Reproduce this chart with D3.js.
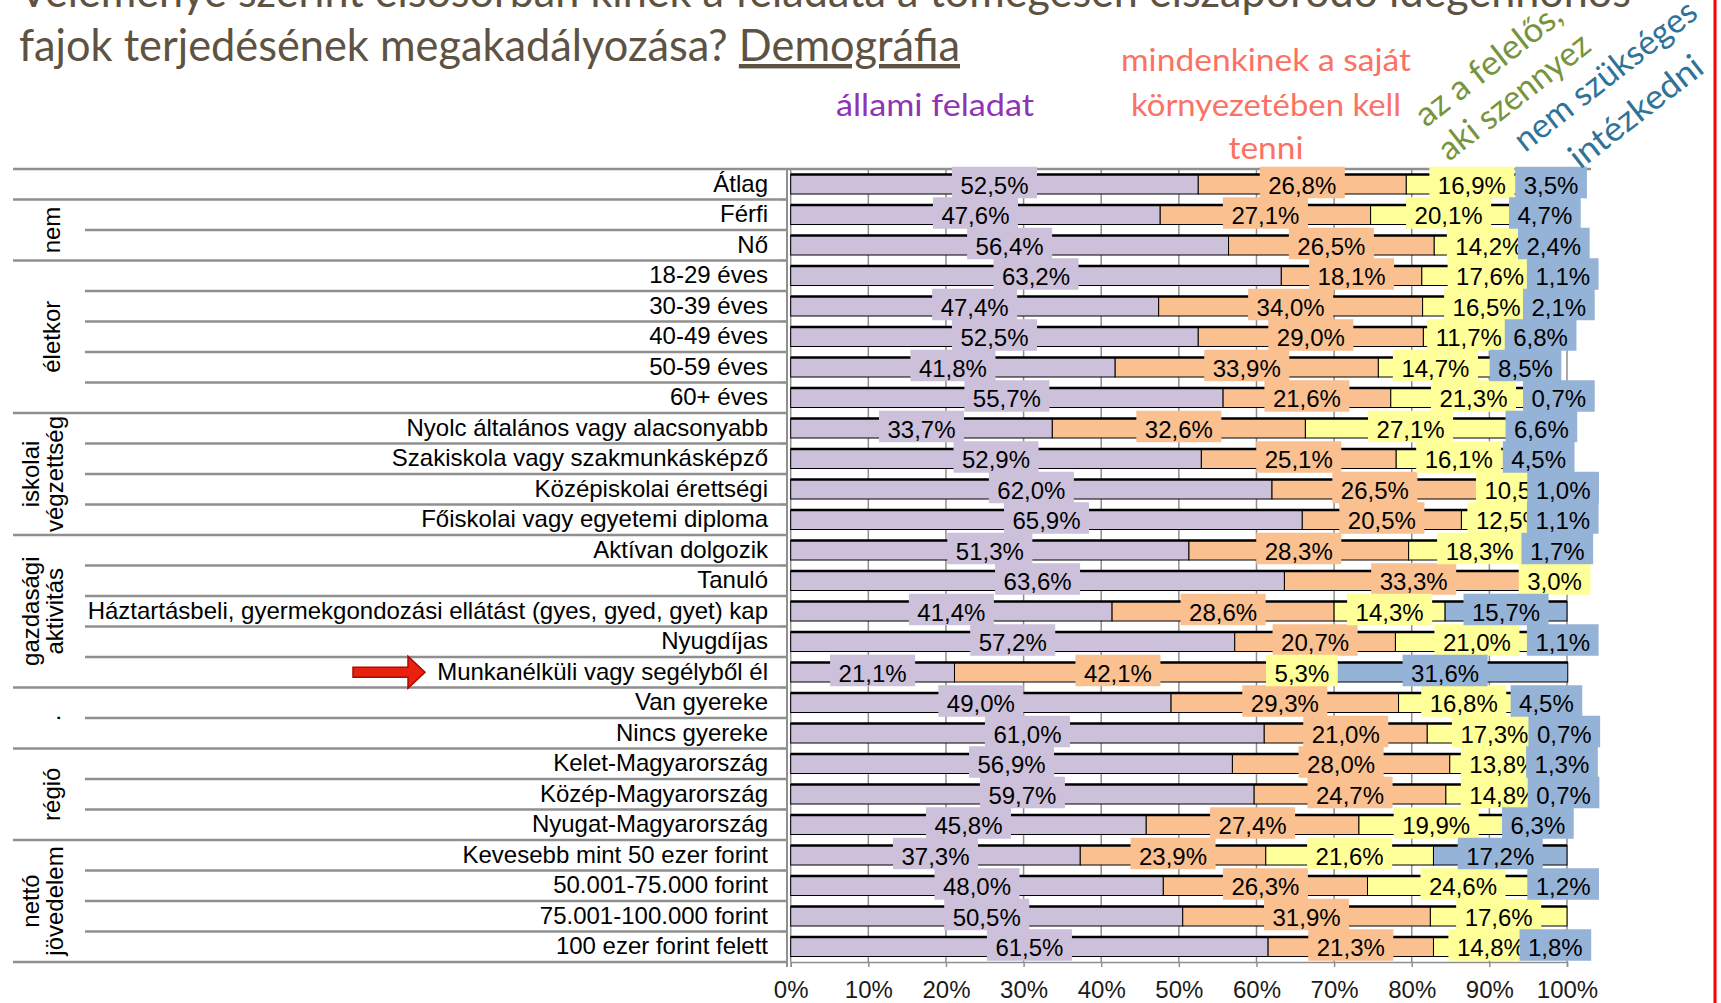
<!DOCTYPE html>
<html>
<head>
<meta charset="utf-8">
<script src="https://cdn.jsdelivr.net/npm/d3@7/dist/d3.min.js"></script>
<style>
  body { margin: 0; background: #fff; }
  svg { display: block; }
</style>
</head>
<body>
<div id="wrapper"></div>
<script>
// rows, top to bottom
const categories = [
  "Átlag",
  "Férfi", "Nő",
  "18-29 éves", "30-39 éves", "40-49 éves", "50-59 éves", "60+ éves",
  "Nyolc általános vagy alacsonyabb", "Szakiskola vagy szakmunkásképző",
  "Középiskolai érettségi", "Főiskolai vagy egyetemi diploma",
  "Aktívan dolgozik", "Tanuló",
  "Háztartásbeli, gyermekgondozási ellátást (gyes, gyed, gyet) kap",
  "Nyugdíjas", "Munkanélküli vagy segélyből él",
  "Van gyereke", "Nincs gyereke",
  "Kelet-Magyarország", "Közép-Magyarország", "Nyugat-Magyarország",
  "Kevesebb mint 50 ezer forint", "50.001-75.000 forint",
  "75.001-100.000 forint", "100 ezer forint felett"
]

// group labels on the left and how many rows each covers
const group_names = [[], ["nem"], ["életkor"], ["iskolai", "végzettség"],
  ["gazdasági", "aktivitás"], ["."], ["régió"], ["nettó", "jövedelem"]]
const group_sizes = [1, 2, 5, 4, 5, 2, 3, 4]

// series values (%)
const allami = [52.5, 47.6, 56.4, 63.2, 47.4, 52.5, 41.8, 55.7, 33.7, 52.9, 62.0, 65.9,
  51.3, 63.6, 41.4, 57.2, 21.1, 49.0, 61.0, 56.9, 59.7, 45.8, 37.3, 48.0, 50.5, 61.5]
const sajat = [26.8, 27.1, 26.5, 18.1, 34.0, 29.0, 33.9, 21.6, 32.6, 25.1, 26.5, 20.5,
  28.3, 33.3, 28.6, 20.7, 42.1, 29.3, 21.0, 28.0, 24.7, 27.4, 23.9, 26.3, 31.9, 21.3]
const felelos = [16.9, 20.1, 14.2, 17.6, 16.5, 11.7, 14.7, 21.3, 27.1, 16.1, 10.5, 12.5,
  18.3, 3.0, 14.3, 21.0, 5.3, 16.8, 17.3, 13.8, 14.8, 19.9, 21.6, 24.6, 17.6, 14.8]
const nem_szukseges = [3.5, 4.7, 2.4, 1.1, 2.1, 6.8, 8.5, 0.7, 6.6, 4.5, 1.0, 1.1,
  1.7, 0, 15.7, 1.1, 31.6, 4.5, 0.7, 1.3, 0.7, 6.3, 17.2, 1.2, 0, 1.8]

const x_ticks = [0, 10, 20, 30, 40, 50, 60, 70, 80, 90, 100]

const title_lines = [
  "Véleménye szerint elsősorban kinek a feladata a tömegesen elszaporodó idegenhonos",
  "fajok terjedésének megakadályozása? "
]
const title_link = "Demográfia"

const highlighted = "Munkanélküli vagy segélyből él"

function drawChart() {
  const dim = {
    width: 1721,
    height: 1003,
    plot_left: 790.7,
    plot_right: 1567,
    plot_top: 169,
    plot_bottom: 962,
    axis_x: 787,
  }
  const colors = ["#ccc0da", "#fac090", "#ffff99", "#95b3d7"]
  const grid_color = "#8f8f8f"
  const label_font = "'Liberation Sans', Arial, sans-serif"
  const title_font = "Lato, 'Open Sans', sans-serif"

  const svg = d3.select("#wrapper")
    .append("svg")
    .attr("width", dim.width)
    .attr("height", dim.height)

  // scales
  const x_scale = d3.scaleLinear()
    .domain([0, 100])
    .range([dim.plot_left, dim.plot_right])
  const y_scale = d3.scaleBand()
    .domain(categories)
    .range([dim.plot_top, dim.plot_bottom])
    .paddingInner(0.36)
    .paddingOuter(0.18)
  const step = y_scale.step()
  const y_mid = c => y_scale(c) + y_scale.bandwidth() / 2

  // stack the four series
  const rows = categories.map((c, i) => ({
    cat: c, v: [allami[i], sajat[i], felelos[i], nem_szukseges[i]]
  }))
  const stacked = d3.stack()
    .keys([0, 1, 2, 3])
    .value((d, k) => d.v[k])(rows)

  // vertical gridlines
  svg.append("g").selectAll("line")
    .data(x_ticks)
    .join("line")
    .attr("x1", d => x_scale(d)).attr("x2", d => x_scale(d))
    .attr("y1", dim.plot_top).attr("y2", dim.plot_bottom)
    .attr("stroke", grid_color).attr("stroke-width", 1.5)

  // table lines on the left
  const group_starts = d3.cumsum([0, ...group_sizes])
  const bounds = d3.range(categories.length + 1)
  svg.append("g").selectAll("line")
    .data(bounds)
    .join("line")
    .attr("x1", d => group_starts.includes(d) ? 13 : 85)
    .attr("x2", d => d === 0 ? 1591 : dim.axis_x)
    .attr("y1", d => dim.plot_top + d * step)
    .attr("y2", d => dim.plot_top + d * step)
    .attr("stroke", grid_color).attr("stroke-width", 2.5)

  // axis line with ticks at row borders
  svg.append("line")
    .attr("x1", dim.axis_x).attr("x2", dim.axis_x)
    .attr("y1", dim.plot_top).attr("y2", dim.plot_bottom + 5)
    .attr("stroke", grid_color).attr("stroke-width", 2)
  svg.append("g").selectAll("line")
    .data(bounds)
    .join("line")
    .attr("x1", dim.axis_x - 7).attr("x2", dim.axis_x)
    .attr("y1", d => dim.plot_top + d * step)
    .attr("y2", d => dim.plot_top + d * step)
    .attr("stroke", grid_color).attr("stroke-width", 1.5)

  // bars
  stacked.forEach((s, si) => {
    svg.append("g").selectAll("rect")
      .data(s.filter(d => d[1] - d[0] > 0))
      .join("rect")
      .attr("x", d => x_scale(d[0]))
      .attr("y", d => y_scale(d.data.cat))
      .attr("width", d => x_scale(d[1]) - x_scale(d[0]))
      .attr("height", y_scale.bandwidth())
      .attr("fill", colors[si])
      .attr("stroke", "#000")
      .attr("stroke-width", 1)
  })
  // heavier top edge on each bar
  svg.append("g").selectAll("line")
    .data(rows)
    .join("line")
    .attr("x1", x_scale(0))
    .attr("x2", d => x_scale(d3.sum(d.v)))
    .attr("y1", d => y_scale(d.cat))
    .attr("y2", d => y_scale(d.cat))
    .attr("stroke", "#000").attr("stroke-width", 2.5)

  // data labels with filled boxes, series by series
  stacked.forEach((s, si) => {
    s.filter(d => d[1] - d[0] > 0).forEach(d => {
      const g = svg.append("g")
      const cx = x_scale((d[0] + d[1]) / 2)
      const cy = y_mid(d.data.cat) + 1
      const txt = g.append("text")
        .attr("x", cx).attr("y", cy)
        .attr("dy", "0.35em")
        .attr("text-anchor", "middle")
        .style("font-family", label_font)
        .style("font-size", "24px")
        .attr("fill", "#000")
        .text(d3.format(".1f")(d[1] - d[0]).replace(".", ",") + "%")
      const w = txt.node().getComputedTextLength() + 17
      g.insert("rect", "text")
        .attr("x", cx - w / 2).attr("y", cy - 18.5)
        .attr("width", w).attr("height", 31.5)
        .attr("fill", colors[si])
    })
  })

  // x axis
  const x_axis = d3.axisBottom(x_scale)
    .tickValues(x_ticks)
    .tickFormat(d => d + "%")
    .tickSize(5)
    .tickPadding(14)
  const xg = svg.append("g")
    .attr("transform", `translate(0, ${dim.plot_bottom})`)
    .call(x_axis)
  xg.select(".domain").attr("stroke", grid_color).attr("stroke-width", 1.5)
  xg.selectAll(".tick line").attr("stroke", grid_color).attr("stroke-width", 1.5)
  xg.selectAll("text")
    .style("font-family", label_font)
    .style("font-size", "24px")
    .attr("fill", "#1a1a1a")

  // row labels
  const y_axis = d3.axisLeft(y_scale).tickSize(0).tickPadding(19)
  const yg = svg.append("g")
    .attr("transform", `translate(${dim.axis_x}, 0)`)
    .call(y_axis)
  yg.select(".domain").remove()
  yg.selectAll("text")
    .style("font-family", label_font)
    .style("font-size", "24px")
    .attr("fill", "#000")

  // group labels, rotated
  group_names.forEach((lines, gi) => {
    const cy = dim.plot_top + (group_starts[gi] + group_sizes[gi] / 2) * step
    const xs = lines.length === 2 ? [39, 63] : [60]
    lines.forEach((line, li) => {
      svg.append("text")
        .attr("transform", `translate(${xs[li]}, ${cy}) rotate(-90)`)
        .attr("text-anchor", "middle")
        .style("font-family", label_font)
        .style("font-size", "24px")
        .attr("fill", "#000")
        .text(line)
    })
  })

  // red arrow pointing at the highlighted row
  const ay = y_mid(highlighted)
  const arrow = d3.path()
  arrow.moveTo(353, ay - 5)
  arrow.lineTo(408, ay - 5)
  arrow.lineTo(408, ay - 16)
  arrow.lineTo(425, ay)
  arrow.lineTo(408, ay + 16)
  arrow.lineTo(408, ay + 5)
  arrow.lineTo(353, ay + 5)
  arrow.closePath()
  svg.append("path")
    .attr("d", arrow.toString())
    .attr("fill", "#e8220e")
    .attr("stroke", "#a80c00")
    .attr("stroke-width", 1.5)

  // title
  const title = svg.append("g")
    .style("font-family", title_font)
    .style("font-size", "44px")
    .attr("fill", "#5e5242")
  title.append("text")
    .attr("x", 19).attr("y", 7)
    .attr("textLength", 1612)
    .attr("lengthAdjust", "spacingAndGlyphs")
    .text(title_lines[0])
  const t2 = title.append("text")
    .attr("x", 19).attr("y", 61)
    .attr("textLength", 941)
    .attr("lengthAdjust", "spacingAndGlyphs")
  t2.append("tspan").text(title_lines[1])
  t2.append("tspan").style("text-decoration", "underline").text(title_link)

  // series names written above the bars (start anchored, fixed length)
  const legend = [
    { lines: ["állami feladat"], color: "#9033b5", x: 935, y: [116], len: [198] },
    { lines: ["mindenkinek a saját", "környezetében kell", "tenni"], color: "#fb7264",
      x: 1266, y: [71, 116, 159], len: [290, 270, 75] },
  ]
  legend.forEach(l => {
    l.lines.forEach((line, li) => {
      svg.append("text")
        .attr("x", l.x - l.len[li] / 2).attr("y", l.y[li])
        .attr("textLength", l.len[li])
        .attr("lengthAdjust", "spacingAndGlyphs")
        .style("font-family", title_font)
        .style("font-size", "31px")
        .attr("fill", l.color)
        .text(line)
    })
  })
  const rotated = [
    { text: "az a felelős,", color: "#77933c", x: 1426, y: 128, len: 176 },
    { text: "aki szennyez", color: "#77933c", x: 1449, y: 162, len: 183 },
    { text: "nem szükséges", color: "#2f7399", x: 1525, y: 153, len: 222 },
    { text: "intézkedni", color: "#2f7399", x: 1580, y: 170, len: 160 },
  ]
  rotated.forEach(r => {
    svg.append("text")
      .attr("transform", `translate(${r.x}, ${r.y}) rotate(-38)`)
      .attr("x", 0).attr("y", 0)
      .attr("textLength", r.len)
      .attr("lengthAdjust", "spacingAndGlyphs")
      .style("font-family", title_font)
      .style("font-size", "34px")
      .attr("fill", r.color)
      .text(r.text)
  })

  // red frame line on the right
  svg.append("line")
    .attr("x1", 1715).attr("x2", 1715)
    .attr("y1", 0).attr("y2", dim.height)
    .attr("stroke", "#ff0000").attr("stroke-width", 3)
}
drawChart()
</script>
</body>
</html>
